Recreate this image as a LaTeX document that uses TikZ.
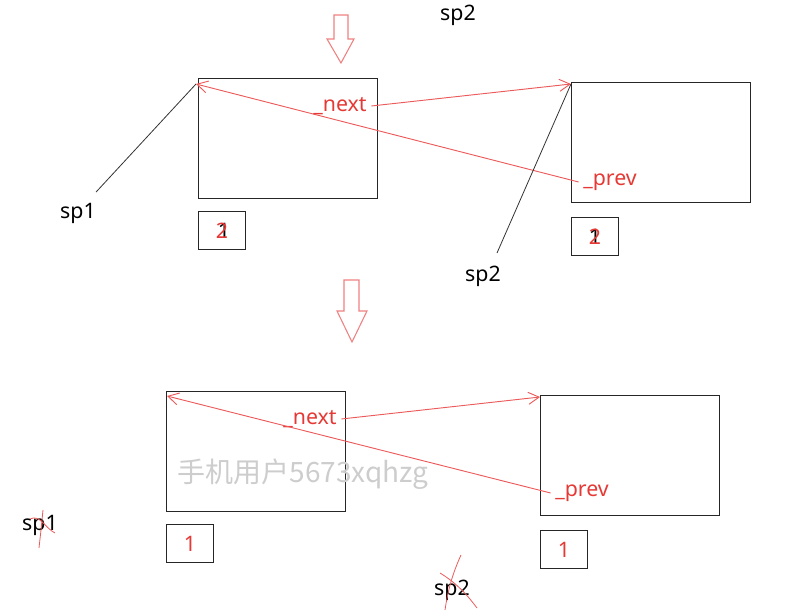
\documentclass[tikz,border=0pt]{standalone}
\usepackage{fontspec}
\setmainfont{Noto Sans}
\newfontfamily\cjkfont{Noto Sans CJK SC}
\usetikzlibrary{arrows.meta,positioning}
\definecolor{InkRed}{HTML}{E53935}
\definecolor{PenRed}{HTML}{EC5B5B}
\definecolor{HollowRed}{HTML}{EE8080}
\definecolor{MarkGray}{HTML}{CDCDCD}

\begin{document}
\begin{tikzpicture}[
    x=0.75pt, y=-0.75pt,
    font=\fontsize{16}{19}\selectfont,
    cell/.style={draw=black!85,line width=0.8pt,minimum width=134.25pt,minimum height=90pt,anchor=north west,inner sep=0pt},
    tag/.style={draw=black!85,line width=0.8pt,minimum width=35.25pt,minimum height=28.5pt,inner sep=0pt},
    field/.style={text=InkRed},
    pointer/.style={-{Straight Barb[length=8pt,width=9pt]},PenRed,line width=0.7pt},
    refline/.style={black!80,line width=0.6pt},
    hollow/.style={draw=HollowRed,line width=0.8pt},
    scratch/.style={PenRed,line width=0.6pt}
  ]
  \useasboundingbox (0,0) rectangle (794,610);

  % step arrows
  \draw[hollow] (334,15) -- (348,15) -- (348,39) -- (354,39) -- (341,63) -- (327,39) -- (334,39) -- cycle;
  \draw[hollow] (344,280) -- (359,280) -- (359,311) -- (367,311) -- (352,342) -- (337,311) -- (344,311) -- cycle;

  \node (sp2top) at (458,15) {sp2};

  % first state
  \node[cell] (a1) at (198,78) {};
  \node[cell] (b1) at (571,82) {};
  \node[tag,below=9pt of a1.south west,anchor=north west] (a1tag) {};
  \node[tag,below=10.5pt of b1.south west,anchor=north west] (b1tag) {};
  \node (a1one) at ([xshift=1.5pt]a1tag) {1};
  \node[field] (a1two) at (a1tag) {2};
  \node (b1one) at (b1tag) {1};
  \node[field] (b1two) at (b1tag) {2};

  \node[field] (a1next) at (340,106) {\_next};
  \node[field] (b1prev) at (610,182) {\_prev};
  \draw[pointer] (a1next.east) -- ([shift={(0,2)}]b1.north west);
  \draw[pointer] (b1prev.west) -- ([shift={(-2,6)}]a1.north west);

  \node (sp1a) at (78,213) {sp1};
  \node (sp2a) at (483,276) {sp2};
  \draw[refline] ([shift={(18,-6)}]sp1a.north) -- ([shift={(-2,6)}]a1.north west);
  \draw[refline] ([shift={(14,-8)}]sp2a.north) -- ([shift={(0,2)}]b1.north west);

  % second state
  \node[cell] (a2) at (166,391) {};
  \node[cell] (b2) at (540,395) {};
  \node[tag,below=9pt of a2.south west,anchor=north west] (a2tag) {};
  \node[tag,below=10.5pt of b2.south west,anchor=north west] (b2tag) {};
  \node[field] (a2one) at (a2tag) {1};
  \node[field] (b2one) at (b2tag) {1};

  \node[field] (a2next) at (310,419) {\_next};
  \node[field] (b2prev) at (582,493) {\_prev};
  \draw[pointer] (a2next.east) -- ([shift={(0,2)}]b2.north west);
  \draw[pointer] (b2prev.west) -- ([shift={(1,5)}]a2.north west);

  \node[text=MarkGray,font=\cjkfont\fontsize{21}{24}\selectfont] (mark) at (303,474) {手机用户5673xqhzg};

  \node (sp1b) at (40,525) {sp1};
  \node (sp2b) at (452,590) {sp2};
  \draw[scratch] (43,510) -- (41,530) -- (39,548);
  \draw[scratch] (30,519) .. controls (40,514) and (45,528) .. (55,533);
  \draw[scratch] (461,555) .. controls (452,575) and (448,590) .. (445,610);
  \draw[scratch] (440,573) .. controls (458,584) and (468,596) .. (477,608);
\end{tikzpicture}
\end{document}
